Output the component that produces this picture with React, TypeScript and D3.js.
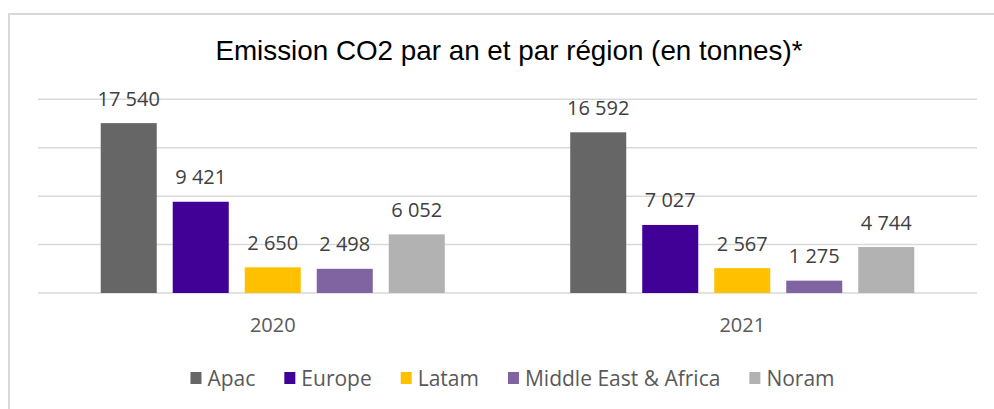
import React from "react";
import * as d3 from "d3";

const years = ["2020", "2021"];
const regions = ["Apac", "Europe", "Latam", "Middle East & Africa", "Noram"];
const apac = [17540, 16592];
const europe = [9421, 7027];
const latam = [2650, 2567];
const mea = [2498, 1275];
const noram = [6052, 4744];
const colors = ["#666666", "#410096", "#FFC000", "#8064A2", "#B2B2B2"];
const yTicks = [0, 5000, 10000, 15000, 20000];
const title = "Emission CO2 par an et par région (en tonnes)*";

const W = 994;
const H = 409;
const FONT = "'Open Sans', Lato, sans-serif";

const locale = d3.formatLocale({ decimal: ",", thousands: " ", grouping: [3], currency: ["", "€"] });
const fmt = locale.format(",d");

function measure(text: string, font: string): number {
  const c = document.createElement("canvas").getContext("2d");
  if (!c) return text.length * 10;
  c.font = font;
  return c.measureText(text).width;
}

export default function App() {
  const seriesValues = [apac, europe, latam, mea, noram];
  const x0 = d3.scaleBand<string>().domain(years).range([38, 977]).padding(0);
  const x1 = d3
    .scaleBand<string>()
    .domain(regions)
    .range([0, x0.bandwidth()])
    .paddingInner(0.222)
    .paddingOuter(0.871);
  const y = d3.scaleLinear().domain([0, 20000]).range([293, 99.3]);

  // legend layout
  const sq = 11;
  const gapSq = 6;
  const gapItem = 29;
  const legendFont = 21;
  const widths = regions.map((r) => measure(r, `${legendFont}px ${FONT}`));
  const itemW = widths.map((w) => sq + gapSq + w);
  const total = itemW.reduce((a, b) => a + b, 0) + gapItem * (regions.length - 1);
  let lx = 512.5 - total / 2;
  const legendPos = itemW.map((w) => {
    const p = lx;
    lx += w + gapItem;
    return p;
  });

  return (
    <svg
      width={W}
      height={H}
      style={{ position: "absolute", left: 0, top: 0, background: "#fff" }}
    >
      <rect x={0} y={0} width={W} height={H} fill="#fff" />
      <rect x={9} y={14} width={1100} height={600} fill="none" stroke="#d9d9d9" strokeWidth={2} />
      <text
        x={509}
        y={59.5}
        textAnchor="middle"
        fontFamily="'Liberation Sans', Arial, sans-serif"
        fontSize={27.8}
        fill="#000"
      >
        {title}
      </text>
      {yTicks.map((t) => (
        <line key={t} x1={38} x2={977} y1={y(t)} y2={y(t)} stroke="#d9d9d9" strokeWidth={1.5} />
      ))}
      {years.map((yr, i) => (
        <g key={yr} transform={`translate(${x0(yr)},0)`}>
          {regions.map((r, j) => {
            const v = seriesValues[j][i];
            const bx = x1(r) as number;
            return (
              <g key={r}>
                <rect
                  x={bx}
                  y={y(v)}
                  width={x1.bandwidth()}
                  height={y(0) - y(v)}
                  fill={colors[j]}
                />
                <text
                  x={bx + x1.bandwidth() / 2}
                  y={y(v) - 17.5}
                  textAnchor="middle"
                  fontFamily={FONT}
                  fontSize={20}
                  fill="#404040"
                >
                  {fmt(v)}
                </text>
              </g>
            );
          })}
          <text
            x={x0.bandwidth() / 2}
            y={332}
            textAnchor="middle"
            fontFamily={FONT}
            fontSize={20}
            fill="#595959"
          >
            {yr}
          </text>
        </g>
      ))}
      {regions.map((r, j) => (
        <g key={r} transform={`translate(${legendPos[j]},0)`}>
          <rect x={0} y={372} width={sq} height={12} fill={colors[j]} />
          <text x={sq + gapSq} y={385.5} fontFamily={FONT} fontSize={legendFont} fill="#595959">
            {r}
          </text>
        </g>
      ))}
    </svg>
  );
}
